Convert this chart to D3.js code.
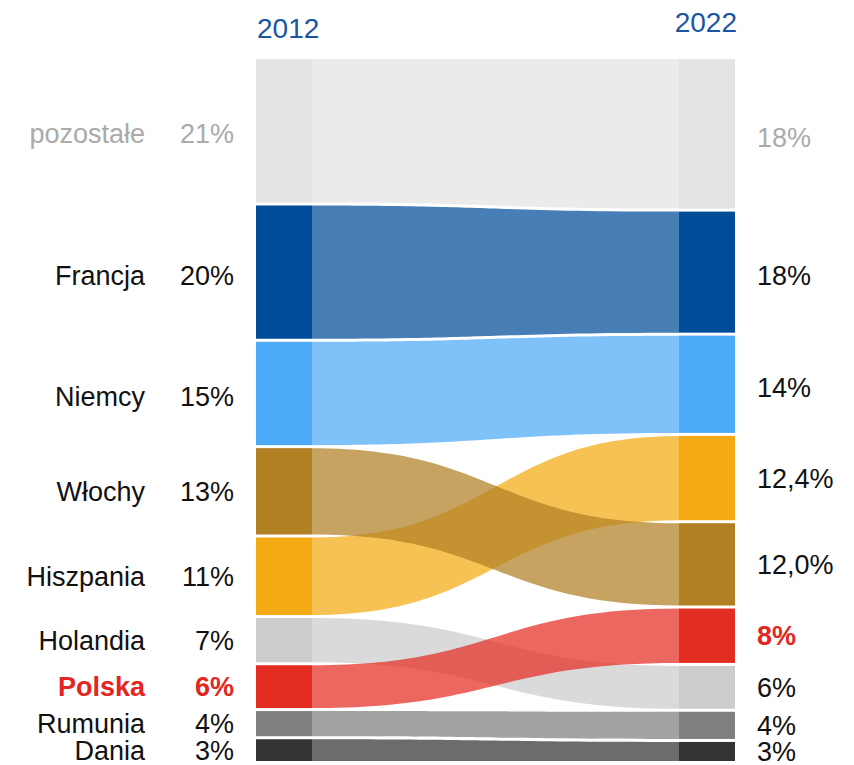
<!DOCTYPE html>
<html>
<head>
<meta charset="utf-8">
<script src="https://cdn.jsdelivr.net/npm/d3@7"></script>
<style>
  body { margin: 0; background: #fff; }
  text { font-family: "Liberation Sans", Arial, sans-serif; }
</style>
</head>
<body>
<div id="chart"></div>
<script>
// data
var countries = ["pozostałe", "Francja", "Niemcy", "Włochy", "Hiszpania", "Holandia", "Polska", "Rumunia", "Dania"];
var share2012 = [21.1, 19.6, 15.2, 12.7, 11.4, 6.5, 6.3, 3.7, 3.2];
var share2022 = [22.0, 17.8, 14.3, 12.1, 12.4, 6.3, 8.0, 4.0, 2.8];
var labels2012 = ["21%", "20%", "15%", "13%", "11%", "7%", "6%", "4%", "3%"];
var labels2022 = ["18%", "18%", "14%", "12,0%", "12,4%", "6%", "8%", "4%", "3%"];
var years = ["2012", "2022"];

drawChart('#chart');

function drawChart(element) {
  var WIDTH = 854, HEIGHT = 765;
  var TOP = 59, BOTTOM = 761;
  var GAP = 3;
  var LEFT = { x0: 256, x1: 312 };
  var RIGHT = { x0: 679, x1: 735 };
  var FONT = 27;
  var LINK_OPACITY = 0.72;

  var COLORS = {
    "pozostałe": "#e3e3e3",
    "Francja": "#004c99",
    "Niemcy": "#4daaf8",
    "Włochy": "#b08023",
    "Hiszpania": "#f4aa12",
    "Holandia": "#cccccc",
    "Polska": "#e32d22",
    "Rumunia": "#808080",
    "Dania": "#333333"
  };
  var TEXT_COLORS = { "pozostałe": "#aaaaaa", "Polska": "#e3261f" };
  var ON_TOP = ["Włochy", "Polska"];

  var n = countries.length;
  var y = d3.scaleLinear()
    .domain([0, d3.sum(share2012)])
    .range([0, BOTTOM - TOP - GAP * (n - 1)]);

  // stack nodes: "pozostałe" on top, the rest by share
  function stack(shares) {
    var idx = d3.range(n).sort(function (a, b) {
      if (a === 0) return -1;
      if (b === 0) return 1;
      return shares[b] - shares[a];
    });
    var pos = [];
    var cur = TOP;
    idx.forEach(function (i) {
      var h = y(shares[i]);
      pos[i] = { y0: cur, y1: cur + h };
      cur += h + GAP;
    });
    return pos;
  }

  var left = stack(share2012);
  var right = stack(share2022);

  var svg = d3.select(element)
    .append("svg")
      .attr("width", WIDTH)
      .attr("height", HEIGHT);

  var linkArea = d3.area()
    .curve(d3.curveBumpX)
    .x(function (d) { return d.x; })
    .y0(function (d) { return d.y0; })
    .y1(function (d) { return d.y1; });

  var order = d3.range(n).sort(function (a, b) {
    return (ON_TOP.indexOf(countries[a]) >= 0) - (ON_TOP.indexOf(countries[b]) >= 0);
  });

  // links
  svg.append("g")
    .selectAll("path")
    .data(order)
    .join("path")
      .attr("fill", function (i) { return COLORS[countries[i]]; })
      .attr("fill-opacity", LINK_OPACITY)
      .attr("d", function (i) {
        return linkArea([
          { x: LEFT.x1, y0: left[i].y0, y1: left[i].y1 },
          { x: RIGHT.x0, y0: right[i].y0, y1: right[i].y1 }
        ]);
      });

  // nodes
  [[left, LEFT], [right, RIGHT]].forEach(function (col) {
    svg.append("g")
      .selectAll("rect")
      .data(d3.range(n))
      .join("rect")
        .attr("x", col[1].x0)
        .attr("width", col[1].x1 - col[1].x0)
        .attr("y", function (i) { return col[0][i].y0; })
        .attr("height", function (i) { return col[0][i].y1 - col[0][i].y0; })
        .attr("fill", function (i) { return COLORS[countries[i]]; });
  });

  function textColor(i) { return TEXT_COLORS[countries[i]] || "#111"; }
  function weight(i) { return countries[i] === "Polska" ? "bold" : "normal"; }
  // text baseline near the middle of a node, a little lower on tall nodes
  function mid(p) {
    var shift = (p.y1 - p.y0) > 95 ? 3 : 0;
    return (p.y0 + p.y1) / 2 + FONT * 0.36 + shift;
  }

  // left labels
  svg.append("g")
    .selectAll("text")
    .data(d3.range(n))
    .join("text")
      .attr("x", 145)
      .attr("y", function (i) { return mid(left[i]); })
      .attr("text-anchor", "end")
      .attr("font-size", FONT)
      .attr("font-weight", weight)
      .attr("fill", textColor)
      .text(function (i) { return countries[i]; });

  svg.append("g")
    .selectAll("text")
    .data(d3.range(n))
    .join("text")
      .attr("x", 234)
      .attr("y", function (i) { return mid(left[i]); })
      .attr("text-anchor", "end")
      .attr("font-size", FONT)
      .attr("font-weight", weight)
      .attr("fill", textColor)
      .text(function (i) { return labels2012[i]; });

  svg.append("g")
    .selectAll("text")
    .data(d3.range(n))
    .join("text")
      .attr("x", 757)
      .attr("y", function (i) { return mid(right[i]); })
      .attr("font-size", FONT)
      .attr("font-weight", weight)
      .attr("fill", textColor)
      .text(function (i) { return labels2022[i]; });

  // years
  svg.append("text")
    .attr("x", LEFT.x0 + 1)
    .attr("y", 38)
    .attr("font-size", 28)
    .attr("fill", "#1a55a2")
    .text(years[0]);

  svg.append("text")
    .attr("x", RIGHT.x1 + 2)
    .attr("y", 32)
    .attr("text-anchor", "end")
    .attr("font-size", 28)
    .attr("fill", "#1a55a2")
    .text(years[1]);
}
</script>
</body>
</html>
